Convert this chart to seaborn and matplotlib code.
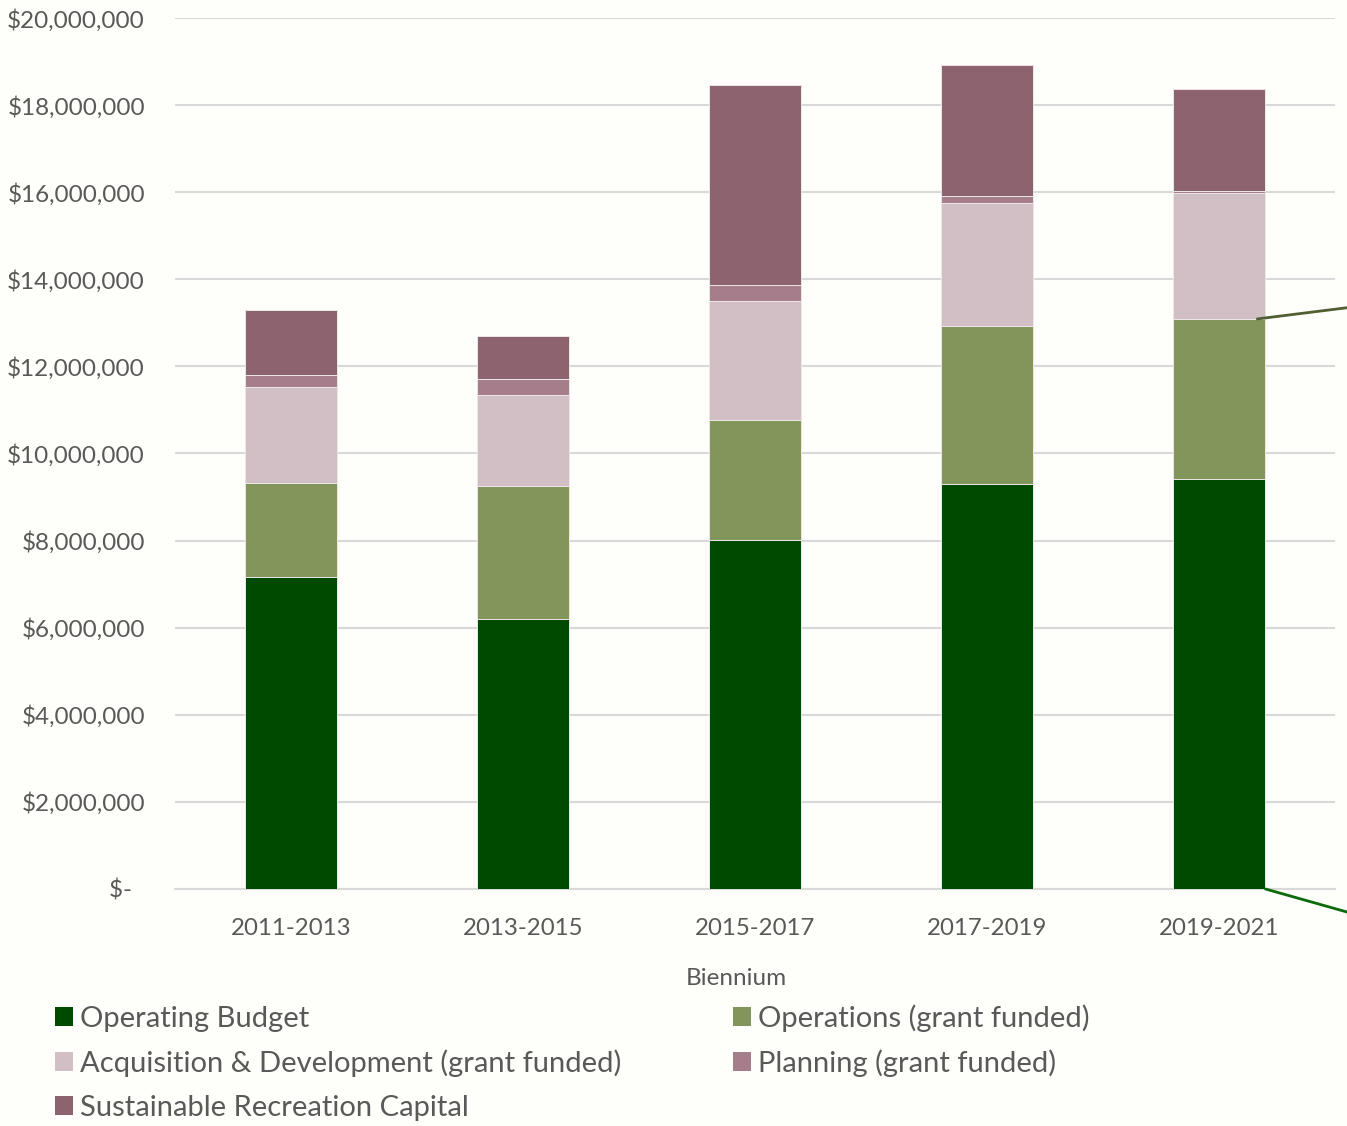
import matplotlib
matplotlib.use("Agg")
import matplotlib.pyplot as plt
from matplotlib.patches import Patch
import numpy as np
import pandas as pd
import seaborn as sns

# Biennium budget breakdown (USD)
biennia = ["2011-2013", "2013-2015", "2015-2017", "2017-2019", "2019-2021"]
operating_budget = [7160000, 6200000, 8010000, 9300000, 9410000]
operations_grant = [2160000, 3050000, 2760000, 3630000, 3680000]
acq_dev_grant = [2210000, 2090000, 2730000, 2820000, 2890000]
planning_grant = [270000, 370000, 370000, 160000, 40000]
sust_rec_capital = [1500000, 990000, 4590000, 3010000, 2340000]

series_names = [
    "Operating Budget",
    "Operations (grant funded)",
    "Acquisition & Development (grant funded)",
    "Planning (grant funded)",
    "Sustainable Recreation Capital",
]
series_values = [operating_budget, operations_grant, acq_dev_grant,
                 planning_grant, sust_rec_capital]
colors = ["#004a00", "#82955a", "#d2bfc6", "#a67e8b", "#8e6370"]

text_color = "#595959"
bg = "#fefefa"

sns.set_theme(style="white")
plt.rcParams["font.family"] = ["Lato", "DejaVu Sans"]

df = pd.DataFrame({"Biennium": biennia})
for name, vals in zip(series_names, series_values):
    df[name] = vals
cum = df[series_names].cumsum(axis=1)

fig = plt.figure(figsize=(13.47, 11.26), dpi=100, facecolor=bg)
ax = fig.add_axes([0.1299, 0.2105, 0.8612, 0.7735])
ax.set_facecolor(bg)

# stacked bars: draw cumulative totals from the top layer down
for name, color in reversed(list(zip(series_names, colors))):
    sns.barplot(x=df["Biennium"], y=cum[name], color=color, width=0.4,
                edgecolor="#ece8e8", linewidth=0.7, saturation=1, ax=ax,
                zorder=3)

ax.set_ylim(0, 20000000)
ax.set_xlim(-0.5, 4.5)
ticks = np.arange(0, 20000001, 2000000)
ax.set_yticks(ticks)
ax.set_yticklabels(["$-  " if t == 0 else f"${t:,.0f}" for t in ticks])
ax.yaxis.grid(True, color="#d9d9d9", linewidth=1.5, zorder=0)
ax.xaxis.grid(False)
for s in ["top", "right", "left"]:
    ax.spines[s].set_visible(False)
ax.spines["bottom"].set_color("#d9d9d9")
ax.spines["bottom"].set_linewidth(1.5)
ax.spines["bottom"].set_zorder(1)
ax.tick_params(axis="y", length=0, pad=21.6, labelsize=17.5,
               labelcolor=text_color)
ax.tick_params(axis="x", length=0, pad=21, labelsize=17.3,
               labelcolor=text_color)
ax.set_ylabel("")
ax.set_xlabel("Biennium", fontsize=17.5, color=text_color)
ax.xaxis.set_label_coords(0.4836, -0.0907)

# leader lines running off the right edge of the last bar
last = len(biennia) - 1
ax.annotate("", xy=(1.02, 0.7297), xycoords="figure fraction",
            xytext=(last + 0.165, cum[series_names[1]].iloc[last]),
            textcoords="data",
            arrowprops=dict(arrowstyle="-", color="#4f5f32", lw=2,
                            shrinkA=0, shrinkB=0), annotation_clip=False)
ax.annotate("", xy=(1.02, 0.1833), xycoords="figure fraction",
            xytext=(last + 0.2, 0), textcoords="data",
            arrowprops=dict(arrowstyle="-", color="#0b6b0b", lw=2,
                            shrinkA=0, shrinkB=0), annotation_clip=False)

# legend laid out row by row in two columns
handles = [Patch(facecolor=c, edgecolor="none", label=n)
           for n, c in zip(series_names, colors)]
order = [0, 2, 4, 1, 3]
leg = fig.legend([handles[i] for i in order],
                 [series_names[i] for i in order],
                 loc="upper left", bbox_to_anchor=(0.0405, 0.108),
                 ncol=2, frameon=False, fontsize=21, labelcolor=text_color,
                 handlelength=0.62, handleheight=0.62, handletextpad=0.24,
                 columnspacing=3.84, labelspacing=0.6, borderaxespad=0,
                 borderpad=0)

fig.savefig("out.png", dpi=100, facecolor=bg)
